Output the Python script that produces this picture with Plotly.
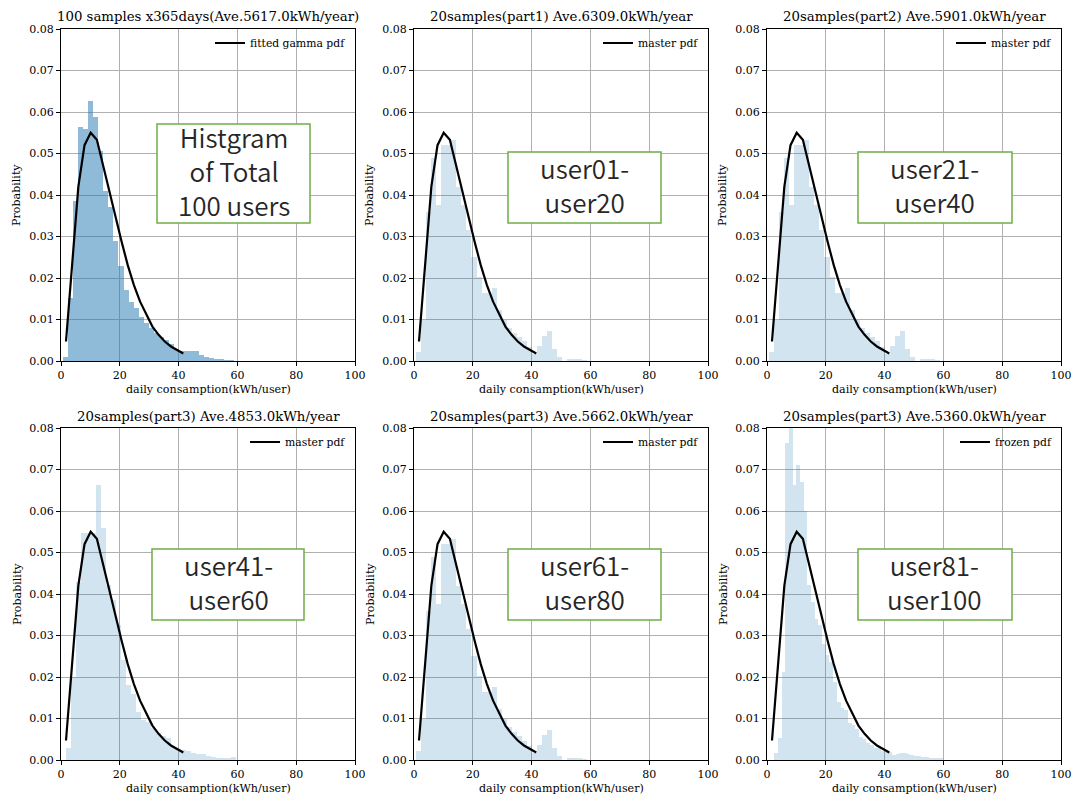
import plotly.graph_objects as go

W, H = 1075, 796

# ---- histogram data (density per bin, kWh/user/day) ----
total_bin_start = 0.8
total_bin_width = 1.705
total_density = [0.0010, 0.0151, 0.0386, 0.0565, 0.0558, 0.0627, 0.0589, 0.0507,
                 0.0410, 0.0370, 0.0288, 0.0230, 0.0171, 0.0143, 0.0127, 0.0107,
                 0.0092, 0.0080, 0.0068, 0.0058, 0.0050, 0.0040, 0.0030, 0.0023,
                 0.0024, 0.0025, 0.0024, 0.0015, 0.0010, 0.0007, 0.0005, 0.0004,
                 0.0003, 0.0002, 0.0001]

part_bin_start = 0.8
part_bin_width = 1.705
part_density = [0.0021, 0.0100, 0.0360, 0.0488, 0.0376, 0.0520, 0.0520, 0.0533,
                0.0420, 0.0376, 0.0316, 0.0250, 0.0203, 0.0165, 0.0165, 0.0177,
                0.0123, 0.0099, 0.0079, 0.0067, 0.0059, 0.0047, 0.0033, 0.0018,
                0.0035, 0.0060, 0.0072, 0.0030, 0.0009, 0.0001, 0.0004, 0.0004,
                0.0004, 0.0002]

u41_bin_start = 1.6
u41_bin_width = 1.705
u41_density = [0.0028, 0.0200, 0.0430, 0.0546, 0.0546, 0.0546, 0.0663, 0.0558,
               0.0422, 0.0386, 0.0325, 0.0241, 0.0181, 0.0158, 0.0116, 0.0096,
               0.0091, 0.0076, 0.0064, 0.0059, 0.0052, 0.0032, 0.0026, 0.0024,
               0.0022, 0.0018, 0.0014, 0.0014, 0.0010, 0.0008, 0.0006, 0.0006,
               0.0004, 0.0008]

u81_bin_start = 2.5
u81_bin_width = 1.25
u81_density = [0.0016, 0.0052, 0.0211, 0.0763, 0.0830, 0.0663, 0.0711, 0.0670,
               0.0600, 0.0422, 0.0380, 0.0340, 0.0325, 0.0280, 0.0253, 0.0237,
               0.0189, 0.0140, 0.0125, 0.0120, 0.0088, 0.0084, 0.0075, 0.0056,
               0.0050, 0.0040, 0.0036, 0.0030, 0.0028, 0.0022, 0.0020, 0.0019,
               0.0012, 0.0015, 0.0018, 0.0018, 0.0015, 0.0012, 0.0010, 0.0009,
               0.0008, 0.0007, 0.0006, 0.0005, 0.0005, 0.0004]

# ---- gamma pdf polyline ----
pdf_x = [1.7, 3.8, 5.9, 8.0, 10.1, 12.2, 14.3, 16.4, 18.5, 20.6,
         22.7, 24.8, 26.9, 29.0, 31.1, 33.2, 35.3, 37.4, 39.5, 41.6]
pdf_y = [0.0047, 0.0235, 0.0420, 0.0520, 0.0550, 0.0533, 0.0472, 0.0408, 0.0344, 0.0288,
         0.0231, 0.0183, 0.0143, 0.0111, 0.0083, 0.0063, 0.0047, 0.0035, 0.0026, 0.0018]

titles = ["100 samples x365days(Ave.5617.0kWh/year)",
          "20samples(part1) Ave.6309.0kWh/year",
          "20samples(part2) Ave.5901.0kWh/year",
          "20samples(part3) Ave.4853.0kWh/year",
          "20samples(part3) Ave.5662.0kWh/year",
          "20samples(part3) Ave.5360.0kWh/year"]
pdf_names = ["fitted gamma pdf", "master pdf", "master pdf",
             "master pdf", "master pdf", "frozen pdf"]
box_texts = ["Histgram<br>of Total<br>100 users",
             "user01-<br>user20", "user21-<br>user40",
             "user41-<br>user60", "user61-<br>user80", "user81-<br>user100"]

x_label = "daily consamption(kWh/user)"
y_label = "Probability"
x_ticks = [0, 20, 40, 60, 80, 100]
y_ticks = [0.00, 0.01, 0.02, 0.03, 0.04, 0.05, 0.06, 0.07, 0.08]

hists = [
    (total_bin_start, total_bin_width, total_density, "rgba(31,119,180,0.5)"),
    (part_bin_start, part_bin_width, part_density, "rgba(31,119,180,0.2)"),
    (part_bin_start, part_bin_width, part_density, "rgba(31,119,180,0.2)"),
    (u41_bin_start, u41_bin_width, u41_density, "rgba(31,119,180,0.2)"),
    (part_bin_start, part_bin_width, part_density, "rgba(31,119,180,0.2)"),
    (u81_bin_start, u81_bin_width, u81_density, "rgba(31,119,180,0.2)"),
]

# ---- layout geometry (pixels) ----
col_px = [(61, 355), (414, 708), (767, 1061)]
row_px = [(29, 361), (428, 760)]
box_px = [(157, 124, 310, 223), (508, 152, 661, 223), (858, 152, 1012, 223),
          (152, 549, 304, 620), (508, 549, 661, 620), (858, 549, 1012, 620)]

SERIF = "DejaVu Serif"
fig = go.Figure()
layout = dict(width=W, height=H, margin=dict(l=0, r=0, t=0, b=0, autoexpand=False),
              paper_bgcolor="white", plot_bgcolor="white",
              bargap=0, barmode="overlay", showlegend=True)
annotations = []
shapes = []

for i in range(6):
    n = i + 1
    r, c = divmod(i, 3)
    x0, x1 = col_px[c]
    top, bot = row_px[r]
    xa = "x" if n == 1 else f"x{n}"
    ya = "y" if n == 1 else f"y{n}"
    lg = "legend" if n == 1 else f"legend{n}"

    start, width, dens, color = hists[i]
    centers = [start + width * (k + 0.5) for k in range(len(dens))]
    fig.add_trace(go.Bar(x=centers, y=dens, width=width, marker=dict(color=color, line=dict(width=0)),
                         xaxis=xa, yaxis=ya, showlegend=False, hoverinfo="skip"))
    fig.add_trace(go.Scatter(x=pdf_x, y=pdf_y, mode="lines", name=pdf_names[i],
                             line=dict(color="black", width=2.2), xaxis=xa, yaxis=ya,
                             legend=lg))

    axis_common = dict(showline=True, linecolor="black", linewidth=1, mirror=True,
                       ticks="outside", ticklen=4, tickwidth=0.9, tickcolor="black",
                       showgrid=True, gridcolor="#b0b0b0", gridwidth=0.9, zeroline=False,
                       automargin=False,
                       tickfont=dict(family=SERIF, size=11, color="black"))
    layout["xaxis" if n == 1 else f"xaxis{n}"] = dict(
        domain=[x0 / W, x1 / W], anchor=ya, range=[0, 100], tickvals=x_ticks, **axis_common)
    layout["yaxis" if n == 1 else f"yaxis{n}"] = dict(
        domain=[1 - bot / H, 1 - top / H], anchor=xa, range=[0, 0.08], tickvals=y_ticks,
        tickformat=".2f", **axis_common)

    layout[lg] = dict(x=(x1 - 4) / W, xanchor="right", y=1 - (top + 14) / H, yanchor="middle",
                      bgcolor="rgba(0,0,0,0)", borderwidth=0, itemwidth=30,
                      font=dict(family=SERIF, size=10.8, color="black"))

    cx = (x0 + x1) / 2
    annotations.append(dict(text=titles[i], xref="paper", yref="paper", x=cx / W,
                            y=1 - (top - 12) / H, xanchor="center", yanchor="middle",
                            showarrow=False, font=dict(family=SERIF, size=13.3, color="black")))
    annotations.append(dict(text=x_label, xref="paper", yref="paper", x=cx / W,
                            y=1 - (bot + 28) / H, xanchor="center", yanchor="middle",
                            showarrow=False, font=dict(family=SERIF, size=11.1, color="black")))
    annotations.append(dict(text=y_label, xref="paper", yref="paper", x=(x0 - 44) / W,
                            y=1 - (top + bot) / 2 / H, xanchor="center", yanchor="middle",
                            textangle=-90, showarrow=False,
                            font=dict(family=SERIF, size=11.1, color="black")))

    # labelled text box
    bx0, by0, bx1, by1 = box_px[i]
    shapes.append(dict(type="rect", xref="paper", yref="paper",
                       x0=bx0 / W, x1=bx1 / W, y0=1 - by1 / H, y1=1 - by0 / H,
                       fillcolor="white", line=dict(color="#70ad47", width=1.5), layer="above"))
    annotations.append(dict(text=box_texts[i], xref="paper", yref="paper",
                            x=(bx0 + bx1) / 2 / W, y=1 - ((by0 + by1) / 2 - 3) / H,
                            xanchor="center", yanchor="middle", showarrow=False, align="center",
                            font=dict(family="Noto Sans CJK JP", size=26, color="#262626",
                                      weight=350)))

layout["annotations"] = annotations
layout["shapes"] = shapes
fig.update_layout(**layout)
fig.write_html("out.html")
